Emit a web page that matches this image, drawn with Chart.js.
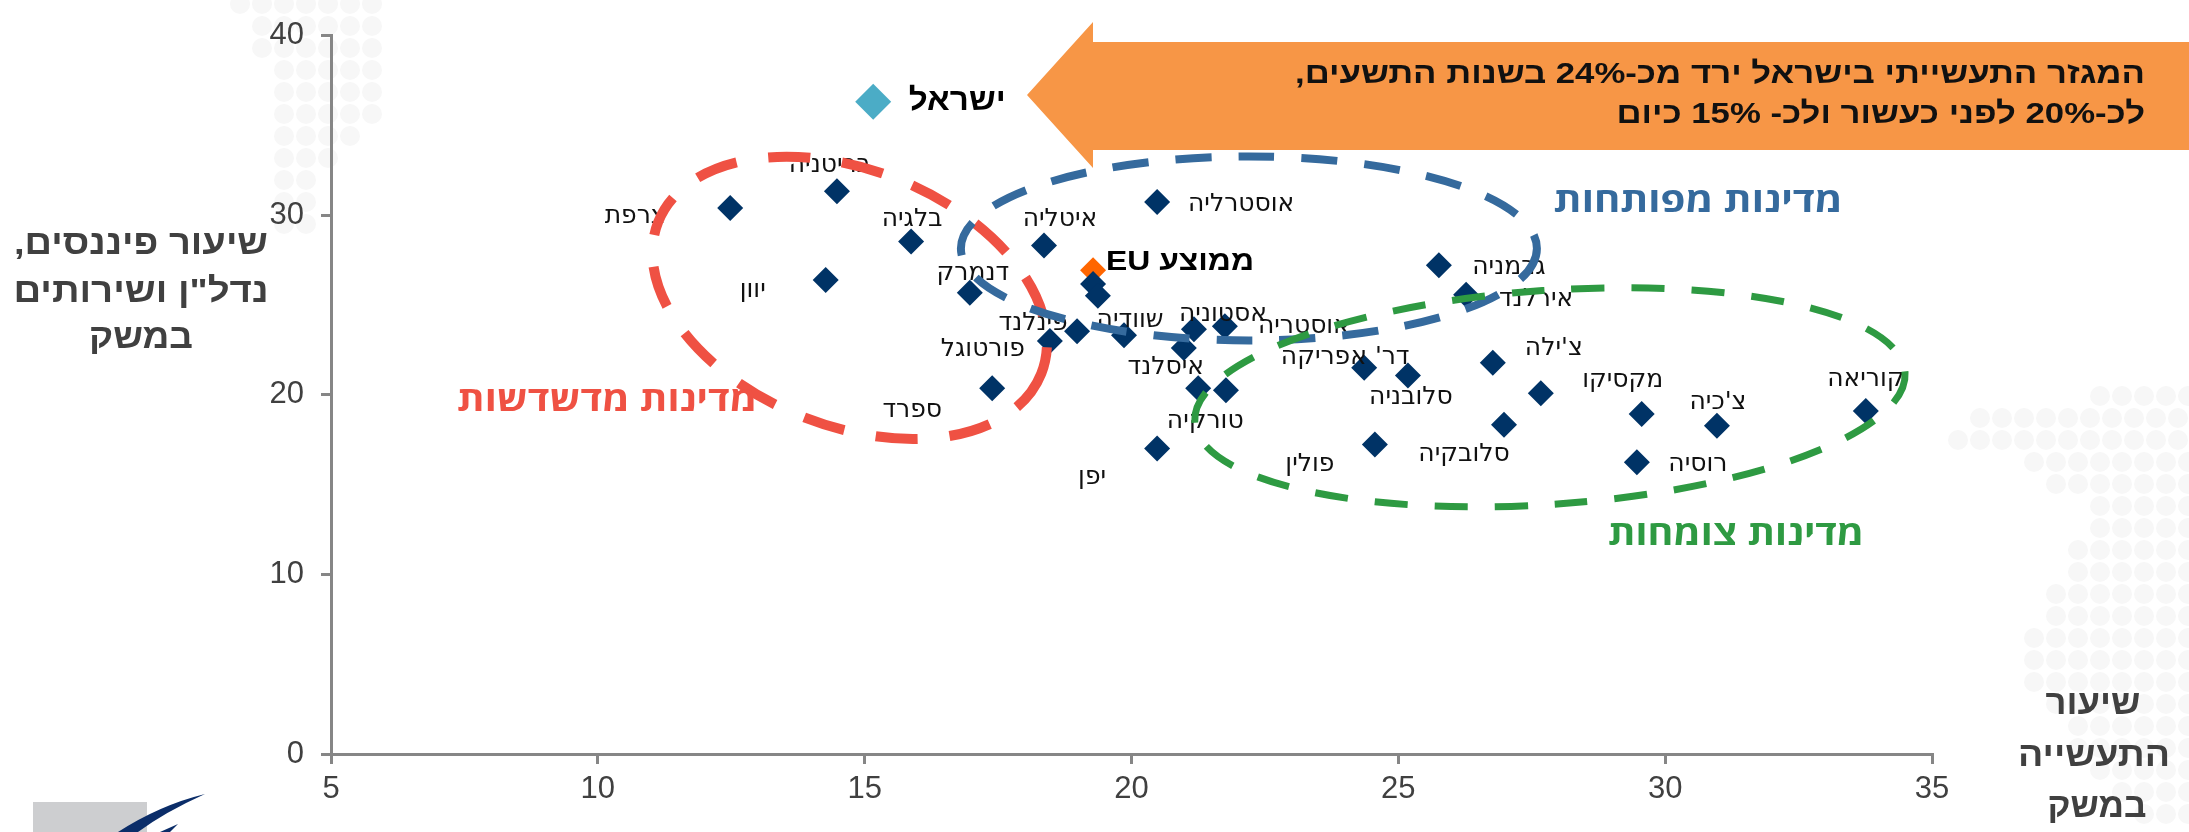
<!DOCTYPE html>
<html lang="he">
<head>
<meta charset="utf-8">
<script src="https://cdn.jsdelivr.net/npm/chart.js@4.4.1/dist/chart.umd.min.js"></script>
<style>
  html, body { margin: 0; padding: 0; background: #fff; }
  #wrap { width: 2189px; height: 832px; }
</style>
</head>
<body>
<div id="wrap"><canvas id="chart" width="2189" height="832"></canvas></div>
<script>
// x = industry share of the economy (%), y = finance, real estate & services share (%)
const countryNames = [
  'צרפת', 'בריטניה', 'יוון', 'בלגיה', 'דנמרק', 'איטליה', 'פורטוגל', 'פינלנד', 'ספרד',
  'אוסטרליה', '', '', 'שוודיה', 'אסטוניה', 'אוסטריה', 'איסלנד', 'טורקיה', '', 'יפן',
  "דר' אפריקה", 'סלובניה', 'פולין', 'גרמניה', 'אירלנד', "צ'ילה", '', 'סלובקיה',
  'מקסיקו', "צ'כיה", 'רוסיה', 'קוריאה'
];
const industryShare = [
  12.48, 14.48, 14.27, 15.87, 16.97, 18.36, 18.47, 18.98, 17.39,
  20.48, 19.28, 19.37, 19.86, 21.17, 21.75, 20.98, 21.25, 21.77, 20.48,
  24.36, 25.18, 24.56, 25.76, 26.27, 26.77, 27.67, 26.98,
  29.56, 30.97, 29.47, 33.76
];
const financeShare = [
  30.40, 31.33, 26.39, 28.53, 25.68, 28.31, 22.99, 23.54, 20.36,
  30.73, 26.17, 25.51, 23.32, 23.65, 23.81, 22.61, 20.36, 20.25, 17.01,
  21.51, 21.07, 17.23, 27.22, 25.57, 21.78, 20.08, 18.33,
  18.93, 18.27, 16.24, 19.10
];
// where each name sits relative to its marker (px)
const labelOffsets = [
  [-95, 8], [-7, -26], [-73, 10], [1, -22], [3, -19], [16, -26], [-67, 8], [-44, -8], [-80, 22],
  [84, 2], [0, 0], [0, 0], [6, -15], [29, -15], [79, 0], [-18, 20], [7, 33], [0, 0], [-65, 29],
  [-19, -10], [3, 22], [-65, 20], [70, 2], [70, 5], [61, -14], [0, 0], [-40, 30],
  [-19, -34], [1, -23], [61, 2], [0, -31]
];

const israelX = [15.16];
const israelY = [36.32];
const euX = [19.28];
const euY = [26.94];

const xTicks = [5, 10, 15, 20, 25, 30, 35];
const yTicks = [0, 10, 20, 30, 40];

// dashed rings around the three country groups (centre in data units)
const groups = [
  { name: 'מדינות מדשדשות', cx: 14.72, cy: 25.4, rx: 206, ry: 128, rot: 21.6,
    color: '#ef5143', width: 10, dash: [42, 32], label: [607, 401, 300] },
  { name: 'מדינות מפותחות', cx: 22.2, cy: 28.15, rx: 288, ry: 92, rot: 0,
    color: '#356a9d', width: 8, dash: [36, 27], label: [1698, 202, 289] },
  { name: 'מדינות צומחות', cx: 27.84, cy: 19.86, rx: 356, ry: 107, rot: -4,
    color: '#2e9a42', width: 7, dash: [33, 27], label: [1736, 535, 256] }
];

const AREA = { left: 331, right: 1932, top: 25, bottom: 754 };

function fitText(ctx, text, x, y, width, k) {
  const scale = k || width / ctx.measureText(text).width;
  ctx.save();
  ctx.translate(x, y);
  ctx.scale(scale, 1);
  ctx.fillText(text, 0, 0);
  ctx.restore();
  return scale;
}

// faint dotted map texture behind the plot
function dots(ctx, rows) {
  ctx.fillStyle = '#f7f7f7';
  rows.forEach(([y, x0, x1]) => {
    for (let x = x0; x <= x1; x += 22) {
      ctx.beginPath();
      ctx.arc(x, y, 10, 0, Math.PI * 2);
      ctx.fill();
    }
  });
}

const overlay = {
  id: 'overlay',
  beforeDraw(chart) {
    const ctx = chart.ctx;
    ctx.save();
    dots(ctx, [
      [4, 240, 390], [26, 262, 390], [48, 262, 390], [70, 284, 390], [92, 284, 390],
      [114, 284, 372], [136, 284, 350], [158, 284, 328], [180, 284, 306], [202, 284, 306],
      [224, 284, 306]
    ]);
    dots(ctx, [
      [396, 2100, 2189], [418, 1980, 2189], [440, 1958, 2189], [462, 2034, 2189],
      [484, 2056, 2189], [506, 2100, 2189], [528, 2100, 2189], [550, 2078, 2189],
      [572, 2078, 2189], [594, 2056, 2189], [616, 2056, 2189], [638, 2034, 2189],
      [660, 2034, 2189], [682, 2034, 2189], [704, 2056, 2189], [726, 2078, 2189],
      [748, 2078, 2189], [770, 2100, 2189], [792, 2122, 2189], [814, 2144, 2189]
    ]);
    ctx.restore();
  },
  afterDatasetsDraw(chart) {
    const ctx = chart.ctx;
    const xs = chart.scales.x, ys = chart.scales.y;
    ctx.save();
    ctx.direction = 'rtl';
    ctx.textBaseline = 'middle';

    // country names
    ctx.font = '25px "DejaVu Sans"';
    ctx.fillStyle = '#111';
    ctx.textAlign = 'center';
    countryNames.forEach((name, i) => {
      if (!name) return;
      const px = xs.getPixelForValue(industryShare[i]);
      const py = ys.getPixelForValue(financeShare[i]);
      ctx.fillText(name, px + labelOffsets[i][0], py + labelOffsets[i][1]);
    });

    // Israel & EU
    ctx.fillStyle = '#000';
    ctx.font = 'bold 31px "Liberation Sans"';
    fitText(ctx, 'ישראל', xs.getPixelForValue(israelX[0]) + 84, ys.getPixelForValue(israelY[0]), 97);
    ctx.font = 'bold 28px "Liberation Sans"';
    fitText(ctx, 'ממוצע EU', xs.getPixelForValue(euX[0]) + 87, ys.getPixelForValue(euY[0]) - 8, 148);

    // group rings
    groups.forEach(g => {
      ctx.save();
      ctx.strokeStyle = g.color;
      ctx.lineWidth = g.width;
      ctx.setLineDash(g.dash);
      ctx.beginPath();
      ctx.ellipse(xs.getPixelForValue(g.cx), ys.getPixelForValue(g.cy), g.rx, g.ry,
        g.rot * Math.PI / 180, 0, Math.PI * 2);
      ctx.stroke();
      ctx.restore();
    });

    // group names
    ctx.font = 'bold 34px "Open Sans", "DejaVu Sans"';
    groups.forEach(g => {
      ctx.fillStyle = g.color;
      fitText(ctx, g.name, g.label[0], g.label[1], g.label[2]);
    });
    ctx.restore();
  },
  afterDraw(chart) {
    const ctx = chart.ctx;
    ctx.save();
    // orange call-out arrow
    ctx.fillStyle = '#f79646';
    ctx.beginPath();
    ctx.moveTo(1027, 95);
    ctx.lineTo(1093, 22);
    ctx.lineTo(1093, 42);
    ctx.lineTo(2189, 42);
    ctx.lineTo(2189, 150);
    ctx.lineTo(1093, 150);
    ctx.lineTo(1093, 168);
    ctx.closePath();
    ctx.fill();

    ctx.direction = 'rtl';
    ctx.textBaseline = 'middle';
    ctx.textAlign = 'right';
    ctx.fillStyle = '#111';
    ctx.font = 'bold 30px "Liberation Sans"';
    const k = fitText(ctx, 'המגזר התעשייתי בישראל ירד מכ-24% בשנות התשעים,', 2145, 75, 850);
    fitText(ctx, 'לכ-20% לפני כעשור ולכ- 15% כיום', 2145, 115, 0, k);

    // axis titles
    ctx.textAlign = 'center';
    ctx.fillStyle = '#404040';
    ctx.font = 'bold 34px "Liberation Sans"';
    fitText(ctx, 'שיעור פיננסים,', 141, 245, 254);
    fitText(ctx, 'נדל"ן ושירותים', 141, 293, 255);
    fitText(ctx, 'במשק', 141, 339, 104);
    fitText(ctx, 'שיעור', 2093, 705, 95);
    fitText(ctx, 'התעשייה', 2094, 757, 152);
    fitText(ctx, 'במשק', 2097, 808, 99);

    // logo corner
    ctx.fillStyle = '#cdced0';
    ctx.fillRect(33, 802, 114, 30);
    ctx.fillStyle = '#0b2d69';
    ctx.beginPath();
    ctx.moveTo(118, 832);
    ctx.quadraticCurveTo(160, 805, 205, 794);
    ctx.quadraticCurveTo(165, 812, 138, 832);
    ctx.closePath();
    ctx.fill();
    ctx.beginPath();
    ctx.moveTo(160, 832);
    ctx.lineTo(178, 824);
    ctx.lineTo(170, 832);
    ctx.closePath();
    ctx.fill();
    ctx.restore();
  }
};

const toPoints = (xv, yv) => xv.map((x, i) => ({ x, y: yv[i] }));

const chart = new Chart(document.getElementById('chart'), {
  type: 'scatter',
  data: {
    datasets: [
      {
        label: 'מדינות',
        data: toPoints(industryShare, financeShare),
        pointStyle: 'rectRot',
        pointRadius: 13,
        backgroundColor: '#003366',
        borderWidth: 0
      },
      {
        label: 'ממוצע EU',
        data: toPoints(euX, euY),
        pointStyle: 'rectRot',
        pointRadius: 13,
        backgroundColor: '#ff6600',
        borderWidth: 0
      },
      {
        label: 'ישראל',
        data: toPoints(israelX, israelY),
        pointStyle: 'rectRot',
        pointRadius: 18,
        backgroundColor: '#4bacc6',
        borderWidth: 0
      }
    ]
  },
  options: {
    responsive: false,
    animation: false,
    events: [],
    devicePixelRatio: 1,
    layout: { padding: { left: 0, right: 257, top: 25, bottom: 0 } },
    plugins: { legend: { display: false }, tooltip: { enabled: false } },
    scales: {
      x: {
        type: 'linear',
        min: 5,
        max: 35,
        afterBuildTicks: s => { s.ticks = xTicks.map(v => ({ value: v })); },
        afterFit: s => { s.height = 78; },
        ticks: {
          color: '#404040',
          font: { family: 'Liberation Sans', size: 31 },
          padding: 7,
          maxRotation: 0
        },
        grid: { display: true, drawOnChartArea: false, drawTicks: true, tickLength: 10, color: '#868686', lineWidth: 3 },
        border: { display: true, color: '#868686', width: 3 }
      },
      y: {
        type: 'linear',
        min: 0,
        max: 40,
        afterBuildTicks: s => { s.ticks = yTicks.map(v => ({ value: v })); },
        afterFit: s => { s.width = 331; },
        ticks: {
          color: '#404040',
          font: { family: 'Liberation Sans', size: 31 },
          padding: 17
        },
        grid: { display: true, drawOnChartArea: false, drawTicks: true, tickLength: 10, color: '#868686', lineWidth: 3 },
        border: { display: true, color: '#868686', width: 3 }
      }
    }
  },
  plugins: [overlay]
});

// pin the plot area to the reference frame
const ca = chart.chartArea;
const pad = chart.options.layout.padding;
pad.top += AREA.top - ca.top;
pad.bottom += ca.bottom - AREA.bottom;
pad.right += ca.right - AREA.right;
chart.update();
</script>
</body>
</html>
